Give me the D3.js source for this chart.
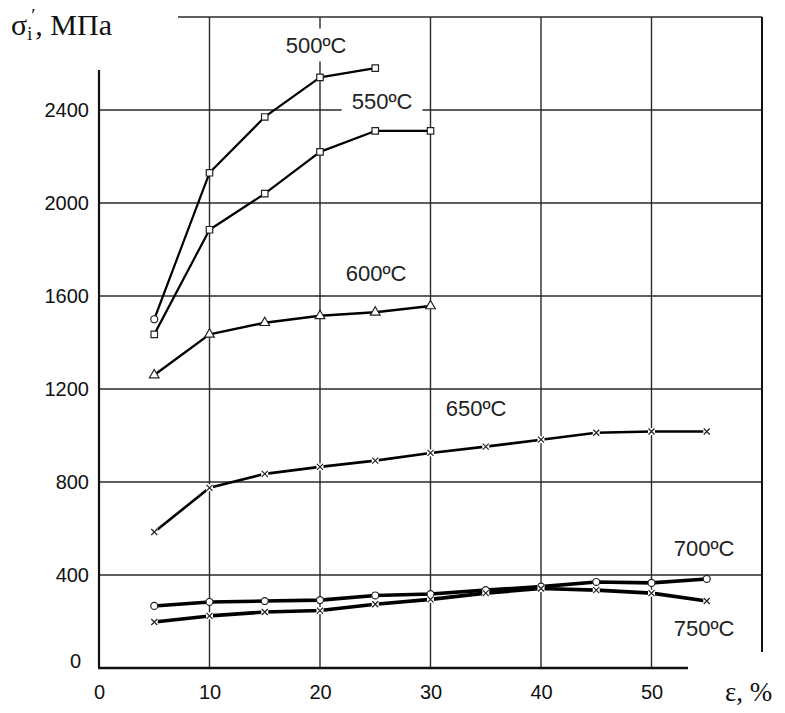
<!DOCTYPE html>
<html><head><meta charset="utf-8">
<script src="https://cdn.jsdelivr.net/npm/d3@7"></script>
<style>
body{margin:0;background:#fff;}
svg{display:block;}
</style></head>
<body>
<svg id="chart" width="785" height="713"></svg>
<script>
// ---- data ----
const xTicks = [0, 10, 20, 30, 40, 50];
const yTicks = [0, 400, 800, 1200, 1600, 2000, 2400];
const labels = ["500ºC", "550ºC", "600ºC", "650ºC", "700ºC", "750ºC"];
const strain500 = [5, 10, 15, 20, 25];
const stress500 = [1500, 2130, 2370, 2540, 2580];
const strain550 = [5, 10, 15, 20, 25, 30];
const stress550 = [1435, 1885, 2040, 2220, 2310, 2310];
const strain600 = [5, 10, 15, 20, 25, 30];
const stress600 = [1260, 1435, 1485, 1515, 1530, 1557];
const strain650 = [5, 10, 15, 20, 25, 30, 35, 40, 45, 50, 55];
const stress650 = [585, 775, 835, 865, 892, 925, 952, 982, 1012, 1017, 1017];
const strain700 = [5, 10, 15, 20, 25, 30, 35, 40, 45, 50, 55];
const stress700 = [267, 284, 288, 292, 312, 318, 335, 350, 370, 366, 383];
const strain750 = [5, 10, 15, 20, 25, 30, 35, 40, 45, 50, 55];
const stress750 = [198, 224, 241, 247, 274, 295, 322, 342, 335, 322, 288];

const svg = d3.select("#chart");
const x = d3.scaleLinear().domain([0, 60]).range([99, 762]);
const y = d3.scaleLinear().domain([0, 2800]).range([668, 17]);

const gridColor = "#2a2a2a";
const g = svg.append("g");

// vertical grid lines
g.selectAll(".vg").data(xTicks.filter(d => d > 0)).enter().append("line")
  .attr("x1", d => x(d)).attr("x2", d => x(d))
  .attr("y1", y(2800)).attr("y2", y(0))
  .attr("stroke", gridColor).attr("stroke-width", 1.4);
// horizontal grid lines
g.selectAll(".hg").data(yTicks.filter(d => d > 0).concat([2800])).enter().append("line")
  .attr("x1", x(0)).attr("x2", x(60))
  .attr("y1", d => y(d)).attr("y2", d => y(d))
  .attr("stroke", gridColor).attr("stroke-width", 1.4);
// right frame line
g.append("line").attr("x1", x(60)).attr("x2", x(60)).attr("y1", y(2800)).attr("y2", y(0))
  .attr("stroke", "#111").attr("stroke-width", 2);
// left & bottom axes lines
g.append("line").attr("x1", x(0)).attr("x2", x(0)).attr("y1", y(2800)).attr("y2", y(0))
  .attr("stroke", "#111").attr("stroke-width", 2.2);
g.append("line").attr("x1", x(0) - 1).attr("x2", x(60)).attr("y1", y(0)).attr("y2", y(0))
  .attr("stroke", "#111").attr("stroke-width", 2.4);

// white boxes behind axis titles
svg.append("rect").attr("x", 0).attr("y", 0).attr("width", 178).attr("height", 70).attr("fill", "#fff");
svg.append("rect").attr("x", 688).attr("y", 652).attr("width", 100).attr("height", 70).attr("fill", "#fff");

// axes tick labels
const yAxis = svg.append("g").attr("transform", `translate(${x(0)},0)`)
  .call(d3.axisLeft(y).tickValues(yTicks).tickFormat(d3.format("d")).tickSize(0).tickPadding(10));
yAxis.select(".domain").remove();
yAxis.selectAll("text").attr("font-family", "Liberation Sans, Arial, sans-serif")
  .attr("font-size", 20).attr("fill", "#111");
yAxis.selectAll(".tick").filter(d => d === 0).select("text").attr("dx", -8).attr("dy", "-0.05em");

const xAxis = svg.append("g").attr("transform", `translate(0,${y(0)})`)
  .call(d3.axisBottom(x).tickValues(xTicks).tickFormat(d3.format("d")).tickSize(0).tickPadding(17));
xAxis.select(".domain").remove();
xAxis.selectAll("text").attr("font-family", "Liberation Sans, Arial, sans-serif")
  .attr("font-size", 20).attr("fill", "#111");

// axis titles
const yt = svg.append("text").attr("x", 11).attr("y", 35)
  .attr("font-family", "Liberation Serif, Times New Roman, serif").attr("font-size", 30).attr("fill", "#111");
yt.append("tspan").text("σ");
yt.append("tspan").attr("font-size", 18).attr("dy", 5).text("i");
yt.append("tspan").attr("font-size", 19).attr("dy", -18).attr("dx", -1).text("′");
yt.append("tspan").attr("dy", 13).text(", МПа");

svg.append("text").attr("x", 725).attr("y", 701)
  .attr("font-family", "Liberation Serif, Times New Roman, serif").attr("font-size", 27).attr("fill", "#111")
  .text("ε, %");

// series
const series = [
  {xs: strain500, ys: stress500, w: 2.2, marker: ["circle", "square", "square", "square", "square"]},
  {xs: strain550, ys: stress550, w: 2.2, marker: "square"},
  {xs: strain600, ys: stress600, w: 2.4, marker: "triangle"},
  {xs: strain650, ys: stress650, w: 2.6, marker: "cross"},
  {xs: strain700, ys: stress700, w: 3.6, marker: "circle"},
  {xs: strain750, ys: stress750, w: 3.6, marker: "cross"}
];
const line = d3.line().x(d => x(d[0])).y(d => y(d[1]));
series.forEach(s => {
  const pts = s.xs.map((v, i) => [v, s.ys[i]]);
  svg.append("path").attr("d", line(pts)).attr("fill", "none")
    .attr("stroke", "#000").attr("stroke-width", s.w).attr("stroke-linejoin", "round");
});
const symMap = {circle: d3.symbolCircle, square: d3.symbolSquare, triangle: d3.symbolTriangle};
series.forEach(s => {
  s.xs.forEach((v, i) => {
    const m = Array.isArray(s.marker) ? s.marker[i] : s.marker;
    const gx = x(v), gy = y(s.ys[i]);
    if (m === "cross") {
      svg.append("rect").attr("x", gx - 3.5).attr("y", gy - 3.5).attr("width", 7).attr("height", 7).attr("fill", "#fff");
      svg.append("path").attr("d", `M${gx-3},${gy-3}L${gx+3},${gy+3}M${gx+3},${gy-3}L${gx-3},${gy+3}`)
        .attr("stroke", "#222").attr("stroke-width", 1.2);
    } else {
      const size = m === "triangle" ? 40 : (m === "circle" ? 38 : 42);
      svg.append("path").attr("d", d3.symbol().type(symMap[m]).size(size)())
        .attr("transform", `translate(${gx},${gy})`)
        .attr("fill", "#fff").attr("stroke", "#222").attr("stroke-width", 1.2);
    }
  });
});

// series labels with white backgrounds
const labelPos = [[316, 45], [382, 101], [376, 273], [476, 408], [704, 548], [704, 628]];
labels.forEach((t, i) => {
  const tx = svg.append("text").attr("x", labelPos[i][0]).attr("y", labelPos[i][1])
    .attr("text-anchor", "middle").attr("dominant-baseline", "central")
    .attr("font-family", "Liberation Sans, Arial, sans-serif").attr("font-size", 22).attr("fill", "#222")
    .text(t);
  const bb = tx.node().getBBox();
  svg.insert("rect", () => tx.node())
    .attr("x", bb.x - 10).attr("y", bb.y - 4).attr("width", bb.width + 20).attr("height", bb.height + 8)
    .attr("fill", "#fff");
});
</script>
</body></html>
